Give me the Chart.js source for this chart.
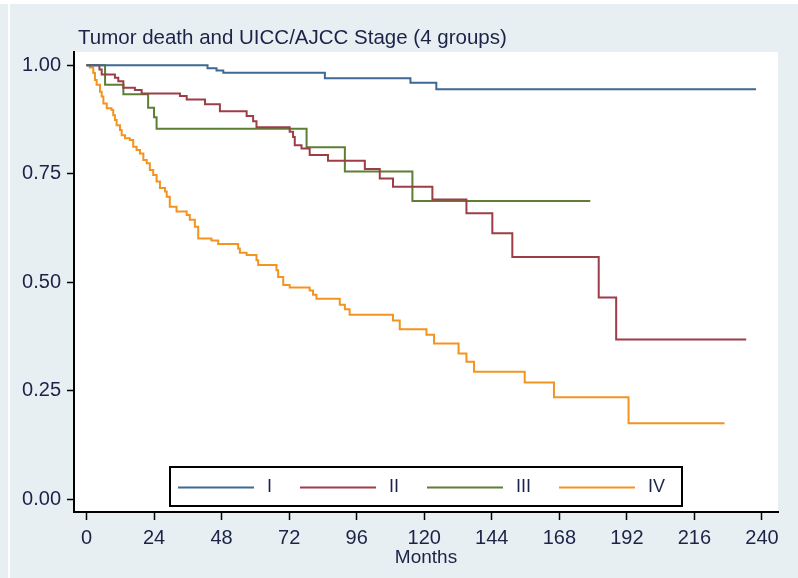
<!DOCTYPE html>
<html>
<head>
<meta charset="utf-8">
<script src="https://cdn.jsdelivr.net/npm/chart.js@4/dist/chart.umd.min.js"></script>
<style>
  html, body { margin: 0; padding: 0; background: #e8eff2; }
  canvas { display: block; }
</style>
</head>
<body>
<canvas id="km" width="798" height="578"></canvas>
<script>
// Kaplan-Meier estimates of tumour-specific survival by UICC/AJCC stage
const chartTitle = 'Tumor death and UICC/AJCC Stage (4 groups)';
const xAxisLabel = 'Months';
const groupLabels = ['I', 'II', 'III', 'IV'];
const groupColors = ['#3d6993', '#9d3d48', '#5d7f34', '#f39320'];

const xTickValues = [0, 24, 48, 72, 96, 120, 144, 168, 192, 216, 240];
const yTickValues = [0, 0.25, 0.5, 0.75, 1];
const yTickLabels = ['0.00', '0.25', '0.50', '0.75', '1.00'];

// Each pair: time of the step (months) and the survival estimate after it
const stageIMonths   = [0, 43.0, 46.2, 48.6, 84.7, 115.1, 124.3, 237.9];
const stageISurvival = [1, 0.993, 0.988, 0.983, 0.970, 0.960, 0.945, 0.945];

const stageIIMonths = [0, 4.6, 5.4, 10.1, 11.3, 13.1, 17.2, 19.6, 33.2, 35.6, 42.1, 47.4,
  56.9, 59.2, 60.4, 71.6, 72.2, 73.4, 74.0, 76.4, 79.3, 85.8, 98.9, 104.2, 108.9,
  122.9, 135.0, 144.2, 151.3, 182.0, 188.2, 234.4];
const stageIISurvival = [1, 0.990, 0.979, 0.971, 0.963, 0.948, 0.943, 0.935, 0.929, 0.921, 0.910, 0.894,
  0.883, 0.871, 0.857, 0.857, 0.847, 0.835, 0.816, 0.808, 0.793, 0.780, 0.761, 0.739, 0.720,
  0.691, 0.659, 0.613, 0.558, 0.465, 0.368, 0.368];

const stageIIIMonths   = [0, 6.6, 13.1, 21.9, 24.0, 24.9, 78.2, 91.8, 115.8, 179.0];
const stageIIISurvival = [1, 0.955, 0.933, 0.902, 0.880, 0.854, 0.811, 0.755, 0.687, 0.687];

const stageIVMonths = [0, 1.2, 2.4, 3.0, 3.6, 4.8, 5.4, 6.0, 7.2, 8.9, 9.5, 10.1, 10.7, 11.9,
  12.5, 13.7, 15.4, 16.6, 17.8, 19.0, 20.2, 21.4, 22.5, 23.7, 24.9, 26.1, 27.9, 28.5,
  29.6, 32.0, 35.6, 36.7, 38.5, 39.7, 44.4, 46.8, 53.9, 54.5, 56.9, 60.4, 61.0, 67.5,
  68.1, 69.9, 72.2, 79.3, 80.5, 81.7, 90.0, 91.8, 93.5, 108.9, 111.3, 120.8, 123.5,
  132.2, 135.0, 137.7, 155.7, 166.1, 192.6, 226.7];
const stageIVSurvival = [1, 0.995, 0.982, 0.966, 0.955, 0.939, 0.928, 0.912, 0.901, 0.897, 0.885, 0.874, 0.862, 0.851,
  0.839, 0.832, 0.828, 0.812, 0.805, 0.797, 0.782, 0.774, 0.759, 0.747, 0.732, 0.717, 0.709, 0.697,
  0.674, 0.663, 0.655, 0.644, 0.628, 0.601, 0.596, 0.588, 0.578, 0.568, 0.563, 0.551, 0.540, 0.528,
  0.512, 0.494, 0.488, 0.481, 0.471, 0.462, 0.448, 0.438, 0.425, 0.412, 0.392, 0.379, 0.359,
  0.336, 0.317, 0.294, 0.269, 0.235, 0.175, 0.175];

const groupMonths = [stageIMonths, stageIIMonths, stageIIIMonths, stageIVMonths];
const groupSurvival = [stageISurvival, stageIISurvival, stageIIISurvival, stageIVSurvival];

const textColor = '#1b2347';
const fontFamily = '"Liberation Sans", Arial, Helvetica, sans-serif';

const datasets = groupLabels.map((label, g) => ({
  label,
  data: groupMonths[g].map((m, i) => ({ x: m, y: groupSurvival[g][i] })),
  borderColor: groupColors[g],
  backgroundColor: groupColors[g],
  borderWidth: 2,
  stepped: 'before',
  pointRadius: 0,
  fill: false
}));

// Page background, white plot region and the title
const backdrop = {
  id: 'backdrop',
  beforeDraw(chart) {
    const { ctx, chartArea: ca, width, height } = chart;
    ctx.save();
    ctx.fillStyle = '#e8eff2';
    ctx.fillRect(0, 0, width, height);
    ctx.fillStyle = '#ffffff';
    ctx.fillRect(0, 0, width, 4);
    ctx.fillRect(8, 0, 2, height);
    ctx.fillRect(ca.left, ca.top, ca.right - ca.left, ca.bottom - ca.top);
    ctx.fillStyle = textColor;
    ctx.font = '20.5px ' + fontFamily;
    ctx.textAlign = 'left';
    ctx.textBaseline = 'alphabetic';
    ctx.fillText(chartTitle, ca.left + 4, 44);
    ctx.restore();
  }
};

// Boxed legend laid out in one row inside the bottom of the plot region
const boxedLegend = {
  id: 'boxedLegend',
  afterDatasetsDraw(chart) {
    const { ctx, chartArea: ca } = chart;
    const boxW = 512, boxH = 39;
    const left = (ca.left + ca.right) / 2 - boxW / 2;
    const top = ca.bottom - 6 - boxH;
    ctx.save();
    ctx.fillStyle = '#ffffff';
    ctx.fillRect(left, top, boxW, boxH);
    ctx.strokeStyle = '#000000';
    ctx.lineWidth = 2;
    ctx.strokeRect(left, top, boxW, boxH);
    ctx.font = '18px ' + fontFamily;
    ctx.textBaseline = 'middle';
    ctx.textAlign = 'left';
    const midY = top + boxH / 2 + 1;
    let x = left + 8;
    chart.data.datasets.forEach((ds) => {
      ctx.strokeStyle = ds.borderColor;
      ctx.lineWidth = 2;
      ctx.beginPath();
      ctx.moveTo(x, midY);
      ctx.lineTo(x + 76, midY);
      ctx.stroke();
      x += 76 + 13;
      ctx.fillStyle = textColor;
      ctx.fillText(ds.label, x, midY);
      x += ctx.measureText(ds.label).width + 28;
    });
    ctx.restore();
  }
};

const tickFont = { family: fontFamily, size: 20 };

new Chart(document.getElementById('km'), {
  type: 'line',
  data: { datasets },
  options: {
    responsive: false,
    animation: false,
    devicePixelRatio: 1,
    layout: { padding: { left: 0, top: 52, right: 20, bottom: 0 } },
    plugins: {
      legend: { display: false },
      title: { display: false },
      tooltip: { enabled: false }
    },
    scales: {
      x: {
        type: 'linear',
        min: -4.44,
        max: 245.7,
        afterBuildTicks: (s) => { s.ticks = xTickValues.map((v) => ({ value: v })); },
        afterFit: (s) => { s.height = 66; },
        ticks: {
          autoSkip: false, maxRotation: 0, minRotation: 0, padding: 6,
          color: textColor, font: tickFont,
          callback: (v) => String(v)
        },
        grid: { drawOnChartArea: false, drawTicks: true, tickLength: 8, tickColor: '#000', tickWidth: 1.5 },
        border: { display: true, color: '#000', width: 2 },
        title: {
          display: true, text: xAxisLabel, color: textColor,
          font: { family: fontFamily, size: 19 }, padding: { top: 0, bottom: 9 }
        }
      },
      y: {
        type: 'linear',
        min: -0.0293,
        max: 1.0306,
        afterBuildTicks: (s) => { s.ticks = yTickValues.map((v) => ({ value: v })); },
        afterFit: (s) => { s.width = 74; },
        ticks: {
          autoSkip: false, padding: 6, color: textColor, font: tickFont,
          callback: (v) => yTickLabels[yTickValues.indexOf(v)]
        },
        grid: { drawOnChartArea: false, drawTicks: true, tickLength: 7, tickColor: '#000', tickWidth: 1.5 },
        border: { display: true, color: '#000', width: 2 }
      }
    }
  },
  plugins: [backdrop, boxedLegend]
});
</script>
</body>
</html>
